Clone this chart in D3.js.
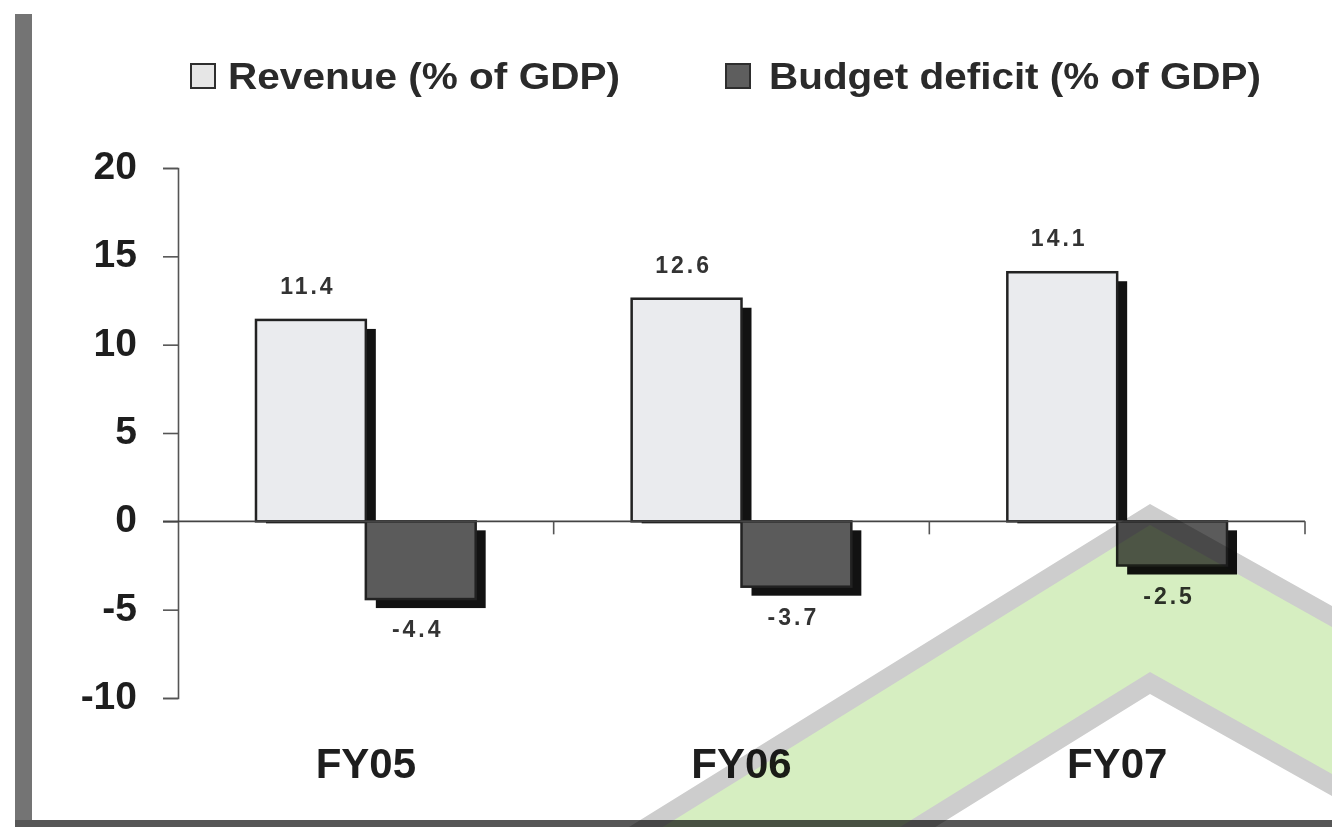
<!DOCTYPE html>
<html>
<head>
<meta charset="utf-8">
<script src="https://cdn.jsdelivr.net/npm/d3@7"></script>
<style>
  html, body { margin: 0; padding: 0; background: #ffffff; }
  svg { display: block; }
  text { font-family: "Liberation Sans", Arial, Helvetica, sans-serif; }
</style>
</head>
<body>
<svg id="chart" width="1332" height="827"></svg>
<script>
// ---- data ----
const categories = ["FY05", "FY06", "FY07"];
const seriesKeys = ["revenue", "deficit"];
const seriesNames = ["Revenue (% of GDP)", "Budget deficit (% of GDP)"];
const revenue = [11.4, 12.6, 14.1];
const deficit = [-4.4, -3.7, -2.5];
const yTicks = [-10, -5, 0, 5, 10, 15, 20];

const rows = categories.map((c, i) => ({ cat: c, revenue: revenue[i], deficit: deficit[i] }));

// ---- layout ----
const W = 1332, H = 827;
const svg = d3.select("#chart");
const font = '"Liberation Sans", Arial, Helvetica, sans-serif';

const y = d3.scaleLinear().domain([-10, 20]).range([698, 168]);
const x0 = d3.scaleBand().domain(categories).range([178, 1305]).paddingInner(0).paddingOuter(0);
const x1 = d3.scaleBand().domain(seriesKeys).range([0, x0.bandwidth()]).paddingInner(0).paddingOuter(0.71);

const fills = { revenue: "#eaebee", deficit: "#5b5b5b" };
const shadowDx = 10, shadowDy = 9;

// frame borders
svg.append("rect").attr("x", 15).attr("y", 14).attr("width", 17).attr("height", H - 14).attr("fill", "#747474");
svg.append("rect").attr("x", 15).attr("y", 820).attr("width", W - 15).attr("height", 7).attr("fill", "#575757");

// legend
const legend = svg.append("g");
const legendPos = [{ bx: 191, tx: 228, tl: 392 }, { bx: 726, tx: 769, tl: 492 }];
seriesKeys.forEach((k, i) => {
  const p = legendPos[i];
  legend.append("rect").attr("x", p.bx).attr("y", 64).attr("width", 24).attr("height", 24)
    .attr("fill", k === "revenue" ? "#e6e6e6" : "#5e5e5e").attr("stroke", "#2e2e2e").attr("stroke-width", 2);
  legend.append("text").attr("x", p.tx).attr("y", 89)
    .attr("font-size", 37).attr("font-weight", "bold").attr("fill", "#2a2a2a")
    .attr("textLength", p.tl).attr("lengthAdjust", "spacingAndGlyphs")
    .text(seriesNames[i]);
});

// y axis
const yAxis = d3.axisLeft(y).tickValues(yTicks).tickSize(15).tickSizeOuter(15).tickPadding(26)
  .tickFormat(d => String(d));
const gy = svg.append("g").attr("transform", "translate(178,0)").call(yAxis);
gy.select(".domain").attr("stroke", "#555").attr("stroke-width", 1.6);
gy.selectAll(".tick line").attr("stroke", "#555").attr("stroke-width", 1.6);
gy.selectAll(".tick text").attr("font-family", font).attr("font-size", 39).attr("font-weight", "bold")
  .attr("fill", "#1e1e1e").attr("dy", "0.27em");

// bars
const groups = svg.append("g").selectAll("g").data(rows).join("g")
  .attr("transform", d => `translate(${x0(d.cat)},0)`);

const bars = groups.selectAll("g.bar").data(d => seriesKeys.map(k => ({ key: k, value: d[k] }))).join("g").attr("class", "bar");

// shadows
bars.append("rect")
  .attr("x", d => x1(d.key) + shadowDx)
  .attr("y", d => d.value >= 0 ? y(d.value) + shadowDy : y(0) + shadowDy)
  .attr("width", x1.bandwidth())
  .attr("height", d => d.value >= 0 ? (y(0) - y(d.value)) - shadowDy + 2 : y(d.value) - y(0))
  .attr("fill", "#121212");

bars.append("rect")
  .attr("x", d => x1(d.key))
  .attr("y", d => Math.min(y(d.value), y(0)))
  .attr("width", x1.bandwidth())
  .attr("height", d => Math.abs(y(d.value) - y(0)))
  .attr("fill", d => fills[d.key])
  .attr("stroke", "#222").attr("stroke-width", 2.5);

// value labels
bars.append("text")
  .attr("x", d => x1(d.key) + x1.bandwidth() / 2)
  .attr("y", d => d.value >= 0 ? y(d.value) - 26 : y(d.value) + 38)
  .attr("dx", -3)
  .attr("text-anchor", "middle")
  .attr("font-size", 23).attr("font-weight", "bold").attr("letter-spacing", 3)
  .attr("fill", "#333")
  .text(d => d.value.toFixed(1));

// zero line + category separators
const xr = x0.range();
svg.append("line").attr("x1", 163).attr("x2", xr[1]).attr("y1", y(0)).attr("y2", y(0))
  .attr("stroke", "#444").attr("stroke-width", 1.6);
svg.append("g").selectAll("line").data(categories).join("line")
  .attr("x1", d => x0(d) + x0.bandwidth()).attr("x2", d => x0(d) + x0.bandwidth())
  .attr("y1", y(0)).attr("y2", y(0) + 13)
  .attr("stroke", "#555").attr("stroke-width", 1.6);

// category labels
svg.append("g").selectAll("text").data(categories).join("text")
  .attr("x", d => x0(d) + x0.bandwidth() / 2)
  .attr("y", 778)
  .attr("text-anchor", "middle")
  .attr("font-size", 42).attr("font-weight", "bold").attr("fill", "#1e1e1e")
  .text(d => d);

// watermark chevron (decoration), multiplied over the chart
const defs = svg.append("defs");
defs.append("clipPath").attr("id", "wmclip").append("rect").attr("x", 32).attr("y", 0).attr("width", W - 32).attr("height", H);
const ax = 1150, sl = 0.62, sr = 0.56;
function band(a1, a2) {
  const L = 450, R = 1900;
  return [[L, a1 + sl * (ax - L)], [ax, a1], [R, a1 + sr * (R - ax)],
          [R, a2 + sr * (R - ax)], [ax, a2], [L, a2 + sl * (ax - L)]];
}
const wm = svg.append("g").attr("clip-path", "url(#wmclip)").style("mix-blend-mode", "multiply");
wm.append("polygon").attr("points", band(504, 694).join(" ")).attr("fill", "#cdcdcd");
wm.append("polygon").attr("points", band(525, 672).join(" ")).attr("fill", "#d6eec1");
</script>
</body>
</html>
